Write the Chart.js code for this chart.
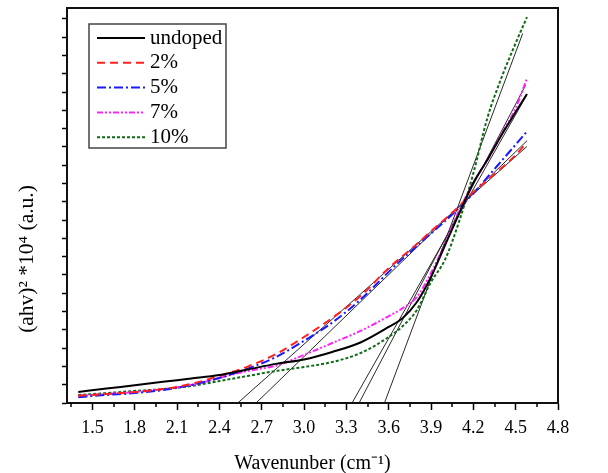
<!DOCTYPE html>
<html><head><meta charset="utf-8">
<script src="https://cdn.jsdelivr.net/npm/chart.js@4"></script>
<style>html,body{margin:0;padding:0;background:#fff}canvas{display:block}</style>
</head><body>
<canvas id="c" width="608" height="473"></canvas>
<script>
// ---- data ----
const wavenumber = [1.4,1.6,1.8,2.0,2.2,2.4,2.6,2.8,3.0,3.2,3.4,3.6,3.7,3.8,3.9,4.0,4.1,4.2,4.3,4.4,4.5,4.58];
const undoped = [0.60,0.79,0.97,1.16,1.34,1.53,1.83,2.14,2.38,2.79,3.31,4.16,4.65,5.52,6.89,8.64,10.37,12.04,13.30,14.66,15.91,16.90];
const doped2  = [0.39,0.49,0.60,0.76,1.04,1.48,1.99,2.67,3.61,4.65,5.85,7.38,8.04,8.69,9.40,10.06,10.77,11.54,12.19,12.85,13.56,14.26];
const doped5  = [0.32,0.44,0.54,0.71,0.98,1.37,1.88,2.51,3.40,4.40,5.65,7.17,7.90,8.59,9.27,9.95,10.68,11.46,12.35,13.24,14.13,14.85];
const doped7  = [0.39,0.49,0.60,0.76,0.98,1.37,1.75,2.04,2.63,3.28,3.94,4.75,5.19,5.80,7.11,8.75,10.55,12.04,13.30,14.71,16.12,17.75];
const doped10 = [0.44,0.54,0.66,0.76,0.93,1.20,1.48,1.75,1.97,2.24,2.73,3.61,4.21,5.09,6.62,7.85,9.95,12.56,15.60,17.80,19.68,21.10];
const seriesNames = ["undoped","2%","5%","7%","10%"];
// tangent (extrapolation) lines: start on the x axis, end near the curve tops
const tangentStartX = [2.53,2.66,3.34,3.39,3.57];
const tangentEndX   = [4.58,4.58,4.58,4.57,4.55];
const tangentEndY   = [14.03,14.34,16.86,17.38,20.21];
const xMajorTicks = [1.5,1.8,2.1,2.4,2.7,3.0,3.3,3.6,3.9,4.2,4.5,4.8];
const xMinorTicks = [1.35,1.65,1.95,2.25,2.55,2.85,3.15,3.45,3.75,4.05,4.35,4.65];
const yTicks = [0,1,2,3,4,5,6,7,8,9,10,11,12,13,14,15,16,17,18,19,20,21];
const xTitle = "Wavenunber (cm\u207B\u00B9)";
const yTitle = "(ahv)\u00B2 *10\u2074 (a.u.)";

const SERIF = "'Liberation Serif','Times New Roman',serif";
const curveStyles = [
  {color:'#000000', dash:[]},
  {color:'#ff2020', dash:[8,5]},
  {color:'#1a1aff', dash:[9,3,2,3]},
  {color:'#ff22ff', dash:[6,2,2,2,2,2]},
  {color:'#0e6b14', dash:[3,2]}
];
const seriesValues = [undoped, doped2, doped5, doped7, doped10];

const datasets = [];
seriesValues.forEach((vals, i) => {
  datasets.push({
    label: seriesNames[i],
    data: wavenumber.map((x, k) => ({x, y: vals[k]})),
    borderColor: curveStyles[i].color,
    borderDash: curveStyles[i].dash,
    borderWidth: 2,
    pointRadius: 0,
    cubicInterpolationMode: 'monotone',
    fill: false
  });
});
tangentStartX.forEach((x0, i) => {
  datasets.push({
    label: 'tangent' + i,
    data: [{x: x0, y: 0}, {x: tangentEndX[i], y: tangentEndY[i]}],
    borderColor: '#2a2a2a',
    borderWidth: 1,
    pointRadius: 0,
    fill: false
  });
});

const extras = {
  id: 'extras',
  afterDraw(chart) {
    const ctx = chart.ctx, a = chart.chartArea, xs = chart.scales.x;
    ctx.save();
    // frame
    ctx.strokeStyle = '#111'; ctx.lineWidth = 2;
    ctx.strokeRect(a.left, a.top, a.right - a.left, a.bottom - a.top);
    // minor x ticks
    ctx.lineWidth = 1.5; ctx.strokeStyle = '#000';
    xMinorTicks.forEach(v => {
      const px = Math.round(xs.getPixelForValue(v));
      ctx.beginPath(); ctx.moveTo(px, a.bottom); ctx.lineTo(px, a.bottom + 4); ctx.stroke();
    });
    // y title
    ctx.fillStyle = '#000';
    ctx.font = "21.5px " + SERIF;
    ctx.textAlign = 'center'; ctx.textBaseline = 'middle';
    ctx.translate(27, 259); ctx.rotate(-Math.PI/2);
    ctx.fillText(yTitle, 0, 0);
    ctx.restore();
    // legend
    ctx.save();
    const bx = 89, by = 24, bw = 137, bh = 124;
    ctx.strokeStyle = '#444'; ctx.lineWidth = 1.5;
    ctx.strokeRect(bx, by, bw, bh);
    ctx.font = "21px " + SERIF; ctx.textBaseline = 'middle'; ctx.textAlign = 'left';
    seriesNames.forEach((name, i) => {
      const y = 38 + i * 24.8;
      const ds = chart.data.datasets[i];
      ctx.strokeStyle = ds.borderColor; ctx.lineWidth = 2;
      ctx.setLineDash(ds.borderDash);
      ctx.beginPath(); ctx.moveTo(97, y); ctx.lineTo(145, y); ctx.stroke();
      ctx.setLineDash([]);
      ctx.fillStyle = '#000';
      ctx.fillText(name, 150, y);
    });
    ctx.restore();
  }
};

new Chart(document.getElementById('c'), {
  type: 'line',
  data: { datasets },
  options: {
    responsive: false,
    animation: false,
    devicePixelRatio: 1,
    layout: { padding: { left: 0, top: 8, right: 50, bottom: 0 } },
    plugins: { legend: { display: false }, tooltip: { enabled: false } },
    scales: {
      x: {
        type: 'linear', min: 1.32, max: 4.8,
        afterBuildTicks: s => { s.ticks = xMajorTicks.map(v => ({value: v})); },
        afterFit: s => { s.height = 70; },
        ticks: { callback: v => Number(v).toFixed(1), color: '#000', font: { family: SERIF, size: 18 }, padding: 7, maxRotation: 0, autoSkip: false },
        grid: { drawOnChartArea: false, drawTicks: true, tickLength: 7, tickWidth: 1.5, tickColor: '#000' },
        border: { display: true, color: '#000', width: 2 },
        title: { display: true, text: xTitle, color: '#000', font: { family: SERIF, size: 20 }, padding: { top: 4, bottom: -3 } }
      },
      y: {
        type: 'linear', min: 0, max: 21.6,
        afterBuildTicks: s => { s.ticks = yTicks.map(v => ({value: v})); },
        afterFit: s => { s.width = 67; },
        ticks: { display: false },
        grid: { drawOnChartArea: false, drawTicks: true, tickLength: 5, tickWidth: 1.5, tickColor: '#000' },
        border: { display: true, color: '#000', width: 2 },
        title: { display: false }
      }
    }
  },
  plugins: [extras]
});
</script>
</body></html>
